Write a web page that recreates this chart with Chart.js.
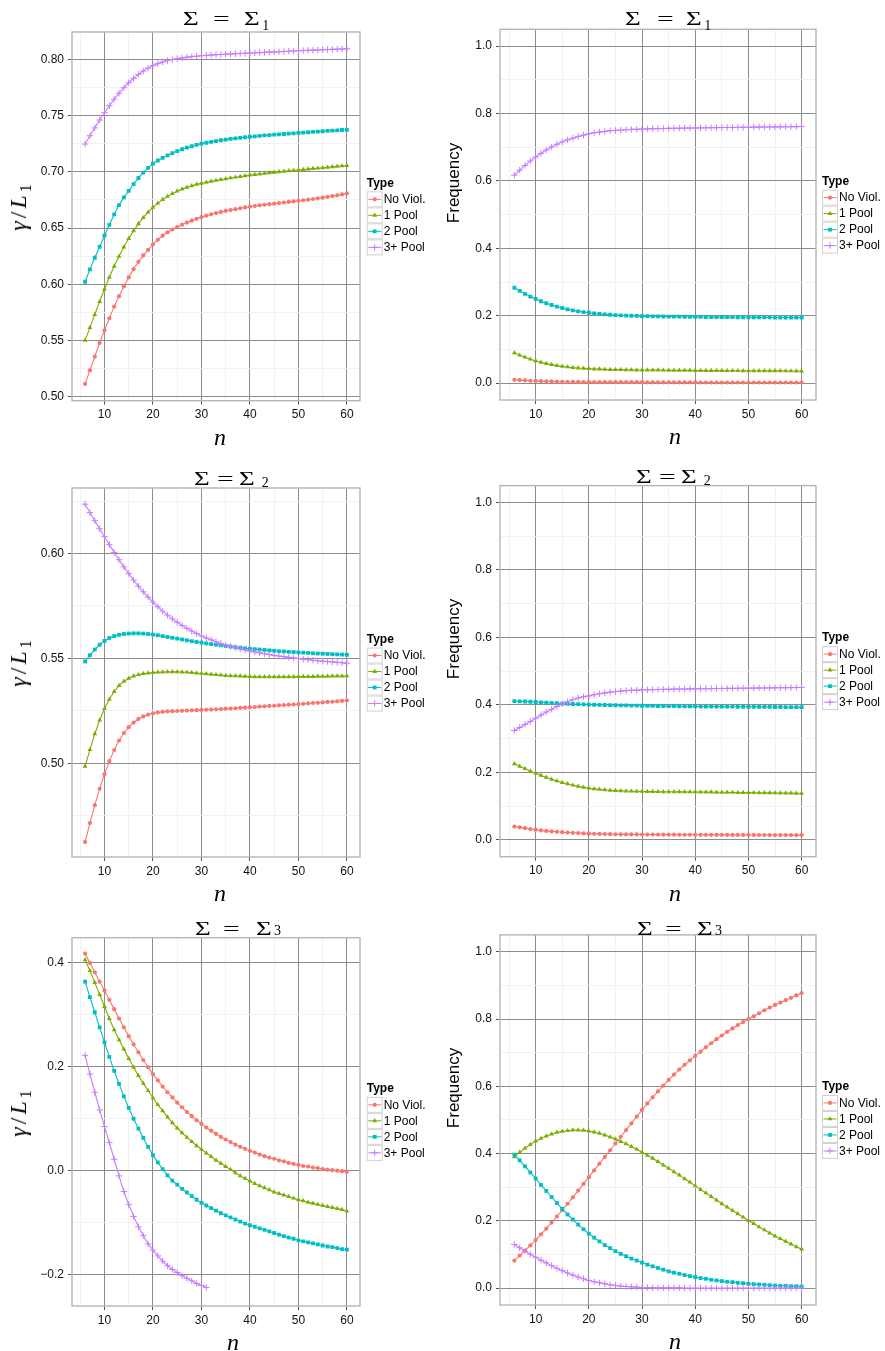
<!DOCTYPE html>
<html><head><meta charset="utf-8">
<script src="https://cdn.jsdelivr.net/npm/chart.js@4.4.1/dist/chart.umd.min.js"></script>
<style>
html,body{margin:0;padding:0;background:#fff;}
#wrap{position:relative;width:885px;height:1351px;overflow:hidden;background:#fff;}
canvas{position:absolute;}
.g{position:absolute;white-space:nowrap;color:#000;font-family:"Liberation Serif",serif;line-height:1;}
.sig{display:inline-block;transform-origin:0 50%;}
.ylab{position:absolute;white-space:nowrap;transform:translate(-50%,-50%) rotate(-90deg);line-height:1;color:#000;}
.gam{font-family:"Liberation Serif",serif;font-size:24px;letter-spacing:3px;}
.gam sub{font-size:16px;font-style:normal;vertical-align:-5px;}
.freq{font-family:"Liberation Sans",Arial,sans-serif;font-size:17px;}
.xlab{position:absolute;transform:translate(-50%,-50%);font-family:"Liberation Serif",serif;font-style:italic;font-size:24px;line-height:1;color:#000;}
</style></head><body><div id="wrap"></div>
<script>
// ---------------- DATA ----------------
const nValues = [6,7,8,9,10,11,12,13,14,15,16,17,18,19,20,21,22,23,24,25,26,27,28,29,30,31,32,33,34,35,36,37,38,39,40,41,42,43,44,45,46,47,48,49,50,51,52,53,54,55,56,57,58,59,60];
const seriesLabels = ['No Viol.','1 Pool','2 Pool','3+ Pool'];
const legendTitle = 'Type';
const xTickValues = [10,20,30,40,50,60];
const xTickLabels = ['10','20','30','40','50','60'];
const yTicksSigma1 = [0.50,0.55,0.60,0.65,0.70,0.75,0.80];
const yLabelsSigma1 = ['0.50','0.55','0.60','0.65','0.70','0.75','0.80'];
const yTicksSigma2 = [0.50,0.55,0.60];
const yLabelsSigma2 = ['0.50','0.55','0.60'];
const yTicksSigma3 = [-0.2,0.0,0.2,0.4];
const yLabelsSigma3 = ['\u22120.2','0.0','0.2','0.4'];
const yTicksFreq = [0.0,0.2,0.4,0.6,0.8,1.0];
const yLabelsFreq = ['0.0','0.2','0.4','0.6','0.8','1.0'];

// Sigma_1 : gamma / L1
const s1gNoViol = [.5115,.5236,.5358,.5479,.5591,.5698,.5802,.5895,.5982,.6062,.6135,.6200,.6257,.6307,.6355,.6396,.6432,.6462,.6487,.6509,.6530,.6549,.6566,.6582,.6597,.6610,.6622,.6633,.6643,.6652,.6660,.6668,.6676,.6683,.6690,.6696,.6702,.6707,.6712,.6717,.6722,.6727,.6732,.6737,.6742,.6747,.6752,.6758,.6764,.6770,.6777,.6784,.6791,.6799,.6808];
const s1gPool1 = [.5502,.5615,.5731,.5847,.5958,.6063,.6160,.6249,.6331,.6407,.6475,.6537,.6592,.6641,.6684,.6721,.6753,.6781,.6806,.6828,.6846,.6862,.6876,.6888,.6898,.6907,.6915,.6923,.6931,.6938,.6945,.6952,.6958,.6964,.6970,.6975,.6980,.6985,.6990,.6995,.7000,.7004,.7008,.7012,.7016,.7020,.7024,.7028,.7032,.7036,.7040,.7044,.7048,.7052,.7056];
const s1gPool2 = [.6023,.6133,.6236,.6334,.6432,.6529,.6621,.6704,.6772,.6831,.6891,.6945,.6993,.7035,.7073,.7100,.7124,.7146,.7166,.7184,.7200,.7214,.7227,.7239,.7250,.7258,.7266,.7273,.7280,.7286,.7292,.7297,.7302,.7307,.7311,.7315,.7319,.7323,.7326,.7330,.7333,.7336,.7339,.7342,.7345,.7348,.7351,.7354,.7357,.7360,.7363,.7366,.7368,.7371,.7373];
const s1gPool3 = [.7246,.7320,.7390,.7460,.7525,.7587,.7645,.7698,.7747,.7791,.7830,.7865,.7895,.7921,.7943,.7961,.7976,.7988,.7998,.8006,.8012,.8018,.8023,.8027,.8031,.8034,.8037,.8040,.8042,.8045,.8047,.8049,.8051,.8053,.8055,.8057,.8059,.8061,.8063,.8065,.8067,.8069,.8071,.8073,.8075,.8077,.8079,.8080,.8082,.8084,.8086,.8088,.8089,.8091,.8093];
// Sigma_1 : frequency
const s1fNoViol = [.010,.009,.008,.007,.0065,.006,.0055,.005,.0045,.004,.004,.0035,.0035,.003,.003,.003,.003,.003,.003,.003,.003,.003,.003,.003,.003,.0025,.0025,.0025,.0025,.0025,.0025,.0025,.0025,.0025,.0025,.002,.002,.002,.002,.002,.002,.002,.002,.002,.002,.002,.002,.002,.002,.002,.002,.002,.002,.002,.002];
const s1fPool1 = [.090,.083,.077,.071,.066,.062,.058,.055,.052,.050,.048,.046,.045,.044,.043,.042,.0415,.041,.0405,.040,.040,.0395,.0395,.039,.039,.039,.0388,.0386,.0384,.0382,.038,.038,.0378,.0378,.0376,.0376,.0374,.0374,.0372,.0372,.037,.037,.037,.0368,.0368,.0366,.0366,.0366,.0364,.0364,.0364,.0362,.0362,.036,.036];
const s1fPool2 = [.283,.274,.265,.257,.250,.243,.237,.232,.227,.223,.219,.216,.213,.211,.209,.207,.2055,.204,.203,.202,.2012,.2005,.200,.1995,.199,.1987,.1984,.1981,.1978,.1976,.1974,.1972,.1970,.1968,.1966,.1964,.1962,.1961,.1960,.1959,.1958,.1957,.1956,.1955,.1954,.1953,.1952,.1951,.1950,.1949,.1948,.1947,.1946,.1945,.1944];
const s1fPool3 = [.617,.632,.646,.659,.671,.682,.692,.701,.709,.716,.722,.727,.732,.736,.740,.743,.745,.747,.749,.750,.751,.752,.753,.7535,.754,.7545,.755,.7553,.7556,.7559,.7562,.7565,.7568,.757,.7572,.7575,.7578,.758,.7582,.7584,.7586,.7588,.759,.7592,.7594,.7596,.7598,.760,.7602,.7604,.7606,.7608,.761,.7612,.7614];
// Sigma_2 : gamma / L1
const s2gNoViol = [.4625,.4715,.4800,.4878,.4948,.5010,.5063,.5108,.5144,.5172,.5194,.5211,.5223,.5232,.5238,.5242,.5245,.5247,.5248,.5249,.5250,.5251,.5252,.5253,.5254,.5255,.5256,.5257,.5258,.5260,.5261,.5262,.5264,.5265,.5267,.5268,.5270,.5271,.5273,.5274,.5276,.5277,.5279,.5280,.5282,.5283,.5285,.5287,.5288,.5290,.5292,.5293,.5295,.5297,.5299];
const s2gPool1 = [.4985,.5065,.5140,.5205,.5260,.5305,.5342,.5370,.5390,.5405,.5415,.5422,.5427,.5430,.5432,.5434,.5435,.5436,.5436,.5436,.5435,.5434,.5432,.5430,.5428,.5426,.5424,.5422,.5420,.5418,.5417,.5416,.5415,.5414,.5413,.5412,.5412,.5412,.5412,.5412,.5412,.5412,.5412,.5412,.5413,.5413,.5413,.5413,.5414,.5414,.5414,.5415,.5415,.5415,.5416];
const s2gPool2 = [.5485,.5515,.5542,.5565,.5583,.5597,.5606,.5612,.5616,.5618,.5619,.5619,.5618,.5616,.5613,.5610,.5606,.5602,.5598,.5594,.5590,.5586,.5582,.5578,.5575,.5571,.5568,.5565,.5562,.5559,.5556,.5553,.5551,.5548,.5546,.5544,.5542,.5540,.5538,.5536,.5534,.5533,.5531,.5530,.5528,.5527,.5526,.5524,.5523,.5522,.5521,.5520,.5519,.5518,.5517];
const s2gPool3 = [.6235,.6195,.6156,.6118,.6080,.6042,.6005,.5970,.5936,.5904,.5873,.5844,.5817,.5792,.5768,.5746,.5725,.5706,.5688,.5672,.5657,.5643,.5630,.5618,.5607,.5597,.5588,.5579,.5571,.5564,.5557,.5551,.5545,.5540,.5535,.5530,.5526,.5522,.5518,.5514,.5511,.5508,.5505,.5502,.5499,.5496,.5494,.5491,.5489,.5487,.5485,.5483,.5481,.5479,.5477];
// Sigma_2 : frequency
const s2fNoViol = [.0395,.037,.0345,.032,.030,.028,.0265,.025,.0238,.0227,.0217,.0208,.020,.019,.0183,.0178,.0174,.017,.0167,.0165,.0163,.0161,.016,.0159,.0158,.0157,.0156,.0155,.0154,.0153,.0152,.0151,.015,.015,.0149,.0149,.0148,.0148,.0147,.0147,.0146,.0146,.0145,.0145,.0144,.0144,.0143,.0143,.0142,.0142,.0141,.0141,.014,.014,.014];
const s2fPool1 = [.2252,.218,.211,.204,.1975,.191,.185,.1795,.1745,.170,.166,.162,.1585,.1555,.153,.151,.1495,.148,.147,.146,.1452,.1446,.1441,.1437,.1434,.1431,.1429,.1427,.1425,.1424,.1423,.1422,.1421,.142,.1419,.1417,.1415,.1413,.1411,.1409,.1407,.1405,.1403,.1401,.1399,.1397,.1395,.1393,.1391,.1389,.1387,.1385,.1383,.1381,.1379];
const s2fPool2 = [.411,.4105,.410,.4093,.4085,.4075,.4066,.4057,.4048,.404,.4033,.4026,.402,.4014,.4009,.4004,.400,.3996,.3992,.3989,.3986,.3983,.398,.3977,.3975,.3972,.397,.3968,.3966,.3964,.3962,.396,.3958,.3956,.3954,.3952,.3951,.395,.3949,.3948,.3947,.3946,.3945,.3944,.3943,.3942,.3941,.394,.3939,.3938,.3937,.3936,.3935,.3934,.3933];
const s2fPool3 = [.324,.333,.342,.351,.3605,.370,.379,.387,.395,.403,.4095,.4155,.4205,.424,.4267,.430,.433,.4355,.4377,.4395,.441,.4422,.4431,.4438,.4444,.4449,.4453,.4457,.446,.4463,.4466,.4469,.4472,.4474,.4476,.4478,.448,.4482,.4484,.4486,.4488,.449,.4492,.4494,.4496,.4498,.45,.4502,.4504,.4506,.4508,.451,.4512,.4514,.4516];
// Sigma_3 : gamma / L1
const s3gNoViol = [.418,.400,.382,.364,.347,.329,.311,.293,.276,.259,.243,.228,.213,.199,.186,.174,.162,.151,.141,.131,.122,.113,.105,.097,.090,.083,.077,.071,.065,.060,.055,.050,.046,.042,.038,.035,.031,.028,.025,.023,.020,.018,.015,.013,.011,.009,.008,.006,.005,.003,.002,.001,.000,-.001,-.002];
const s3gPool1 = [.406,.385,.362,.339,.316,.293,.271,.252,.234,.216,.199,.183,.168,.154,.140,.127,.115,.103,.092,.082,.073,.064,.056,.048,.041,.034,.027,.020,.014,.008,.002,-.004,-.010,-.015,-.020,-.025,-.029,-.033,-.037,-.041,-.044,-.047,-.050,-.053,-.056,-.058,-.061,-.063,-.065,-.067,-.069,-.071,-.073,-.075,-.078];
const s3gPool2 = [.364,.334,.305,.276,.247,.219,.192,.167,.143,.121,.100,.081,.063,.046,.030,.016,.003,-.009,-.019,-.027,-.035,-.042,-.049,-.056,-.062,-.067,-.072,-.077,-.082,-.086,-.090,-.094,-.098,-.102,-.105,-.108,-.111,-.114,-.117,-.120,-.123,-.126,-.129,-.131,-.134,-.136,-.138,-.140,-.142,-.144,-.146,-.147,-.149,-.151,-.152];
const s3gPool3 = [.222,.186,.151,.117,.085,.054,.022,-.010,-.040,-.065,-.088,-.108,-.125,-.141,-.153,-.164,-.174,-.183,-.190,-.196,-.202,-.207,-.212,-.217,-.221,-.225];
// Sigma_3 : frequency
const s3fNoViol = [.082,.097,.112,.127,.143,.160,.177,.195,.213,.232,.251,.270,.290,.310,.330,.350,.370,.390,.410,.430,.450,.470,.490,.510,.530,.549,.567,.585,.602,.619,.635,.650,.664,.677,.690,.703,.716,.728,.740,.751,.762,.772,.782,.791,.800,.808,.817,.826,.834,.842,.849,.856,.863,.870,.877];
const s3fPool1 = [.390,.404,.416,.427,.437,.445,.452,.458,.463,.466,.468,.470,.470,.469,.467,.464,.460,.455,.449,.443,.436,.429,.421,.413,.404,.395,.386,.376,.366,.356,.346,.336,.325,.315,.304,.293,.283,.272,.262,.251,.241,.231,.221,.211,.201,.192,.182,.173,.164,.155,.147,.139,.131,.123,.116];
const s3fPool2 = [.397,.380,.362,.344,.326,.307,.289,.271,.253,.236,.219,.204,.189,.175,.162,.150,.139,.128,.119,.110,.102,.095,.088,.082,.076,.070,.065,.060,.055,.050,.046,.043,.039,.036,.033,.030,.028,.025,.023,.021,.019,.018,.016,.015,.013,.012,.011,.010,.009,.008,.007,.007,.006,.006,.005];
const s3fPool3 = [.130,.120,.110,.101,.092,.083,.075,.067,.059,.052,.045,.039,.033,.028,.023,.019,.016,.013,.010,.008,.006,.005,.004,.003,.002,.002,.001,.001,.001,.001,.001,.001,.000,.000,.000,.000,.000,.000,.000,.000,.000,.000,.000,.000,.000,.000,.000,.000,.000,.000,.000,.000,.000,.000,.000];

// ---------------- STYLE ----------------
const colors = ['#F8766D','#7CAE00','#00BFC4','#C77CFF'];
const shapes = ['circle','triangle','rect','cross'];
const radii  = [2.1,2.8,2.7,3.2];
const MAJOR = '#8c8c8c', MINOR = '#f2f2f2', TICK = '#555555', BORDER = '#b5b5b5';
const FONT = '"Liberation Sans", Arial, sans-serif';

const panels = [
  {cx:0,cy:0,cw:442,ch:450, plot:[72,32,360,400.7], ymin:0.4966, ymax:0.8242, yt:yTicksSigma1, yl:yLabelsSigma1,
   series:[s1gNoViol,s1gPool1,s1gPool2,s1gPool3], leg:6.7},
  {cx:442,cy:0,cw:443,ch:450, plot:[500,29.3,816,400], ymin:-0.05, ymax:1.05, yt:yTicksFreq, yl:yLabelsFreq,
   series:[s1fNoViol,s1fPool1,s1fPool2,s1fPool3], leg:6},
  {cx:0,cy:450,cw:442,ch:450, plot:[72,488,360,857], ymin:0.4553, ymax:0.6312, yt:yTicksSigma2, yl:yLabelsSigma2,
   series:[s2gNoViol,s2gPool1,s2gPool2,s2gPool3], leg:6.7},
  {cx:442,cy:450,cw:443,ch:450, plot:[500,485.6,816,856.7], ymin:-0.05, ymax:1.05, yt:yTicksFreq, yl:yLabelsFreq,
   series:[s2fNoViol,s2fPool1,s2fPool2,s2fPool3], leg:6},
  {cx:0,cy:900,cw:442,ch:451, plot:[72,937.7,360,1306], ymin:-0.2605, ymax:0.4485, yt:yTicksSigma3, yl:yLabelsSigma3,
   series:[s3gNoViol,s3gPool1,s3gPool2,s3gPool3], leg:6.7},
  {cx:442,cy:900,cw:443,ch:451, plot:[500,934.9,816,1305], ymin:-0.05, ymax:1.05, yt:yTicksFreq, yl:yLabelsFreq,
   series:[s3fNoViol,s3fPool1,s3fPool2,s3fPool3], leg:6}
];

function drawMarker(ctx, style, x, y, r, color){
  ctx.save();
  ctx.fillStyle = color; ctx.strokeStyle = color; ctx.lineWidth = 1;
  ctx.beginPath();
  if (style === 'circle') { ctx.arc(x, y, r, 0, Math.PI*2); ctx.fill(); }
  else if (style === 'triangle') {
    let a = 0;
    ctx.moveTo(x + Math.sin(a)*r, y - Math.cos(a)*r); a += 2*Math.PI/3;
    ctx.lineTo(x + Math.sin(a)*r, y - Math.cos(a)*r); a += 2*Math.PI/3;
    ctx.lineTo(x + Math.sin(a)*r, y - Math.cos(a)*r); ctx.closePath(); ctx.fill();
  } else if (style === 'rect') { const s = Math.SQRT1_2*r; ctx.rect(x-s, y-s, 2*s, 2*s); ctx.fill(); }
  else { ctx.moveTo(x, y-r); ctx.lineTo(x, y+r); ctx.moveTo(x-r, y); ctx.lineTo(x+r, y); ctx.stroke(); }
  ctx.restore();
}

const framePlugin = {
  id: 'frameLegend',
  afterDraw(chart, args, opts) {
    const {ctx, chartArea:a} = chart;
    ctx.save();
    ctx.strokeStyle = BORDER; ctx.lineWidth = 1.4;
    ctx.strokeRect(a.left, a.top, a.right - a.left, a.bottom - a.top);
    const lx = a.right + opts.gap;
    const cy = (a.top + a.bottom) / 2;
    ctx.fillStyle = '#000';
    ctx.font = 'bold 12px ' + FONT;
    ctx.textBaseline = 'middle'; ctx.textAlign = 'left';
    ctx.fillText(legendTitle, lx, cy - 33);
    for (let i = 0; i < seriesLabels.length; i++) {
      const ky = cy - 17 + i * 16;
      ctx.fillStyle = '#ffffff';
      ctx.fillRect(lx, ky - 8, 15, 16);
      ctx.strokeStyle = '#d0d0d0'; ctx.lineWidth = 1;
      ctx.strokeRect(lx + 0.5, ky - 7.5, 15, 15);
      ctx.strokeStyle = colors[i]; ctx.lineWidth = 1;
      ctx.beginPath(); ctx.moveTo(lx + 1.5, ky); ctx.lineTo(lx + 14.5, ky); ctx.stroke();
      drawMarker(ctx, shapes[i], lx + 8, ky, radii[i], colors[i]);
      ctx.fillStyle = '#000'; ctx.font = '12px ' + FONT;
      ctx.fillText(seriesLabels[i], lx + 17, ky + 0.5);
    }
    ctx.restore();
  }
};

function minorOf(majors, lo, hi) {
  const step = majors[1] - majors[0];
  const out = [];
  for (let k = -3; k < majors.length + 3; k++) {
    const v = majors[0] + (k + 0.5) * step;
    if (v >= lo && v <= hi) out.push(+v.toFixed(6));
  }
  return out;
}
function isIn(list, v) { return list.some(m => Math.abs(m - v) < 1e-6); }

const wrap = document.getElementById('wrap');
const XMIN = 3.3, XMAX = 62.7;
const xMinor = minorOf(xTickValues, XMIN, XMAX);

panels.forEach(p => {
  const cv = document.createElement('canvas');
  cv.width = p.cw; cv.height = p.ch;
  cv.style.left = p.cx + 'px'; cv.style.top = p.cy + 'px';
  cv.style.width = p.cw + 'px'; cv.style.height = p.ch + 'px';
  wrap.appendChild(cv);
  const [pl, pt, pr, pb] = p.plot;
  const yAxisW = pl - p.cx;
  const xAxisH = 30;
  const yMinor = minorOf(p.yt, p.ymin, p.ymax);
  const datasets = p.series.map((ys, i) => ({
    label: seriesLabels[i],
    data: ys.map((y, j) => ({x: nValues[j], y: y})),
    borderColor: colors[i], backgroundColor: colors[i],
    pointBackgroundColor: colors[i], pointBorderColor: colors[i],
    borderWidth: 1.1, pointStyle: shapes[i], pointRadius: radii[i], pointHoverRadius: radii[i],
    pointBorderWidth: i === 3 ? 1 : 0, tension: 0, fill: false, order: 4 - i
  }));
  new Chart(cv, {
    type: 'line',
    data: { datasets },
    plugins: [framePlugin],
    options: {
      responsive: false, animation: false, devicePixelRatio: 1,
      layout: { padding: { left: 0, top: pt - p.cy, right: p.cx + p.cw - pr, bottom: p.ch - (pb - p.cy) - xAxisH } },
      plugins: { legend: {display:false}, title:{display:false}, tooltip:{enabled:false}, frameLegend: {gap: p.leg} },
      events: [],
      scales: {
        x: {
          type: 'linear', min: XMIN, max: XMAX,
          afterBuildTicks: s => { s.ticks = xMinor.concat(xTickValues).sort((a,b)=>a-b).map(v => ({value: v})); },
          afterFit: s => { s.height = xAxisH; },
          border: {display: false},
          grid: {
            color: c => (c.tick && isIn(xTickValues, c.tick.value)) ? MAJOR : MINOR,
            tickColor: c => (c.tick && isIn(xTickValues, c.tick.value)) ? TICK : 'rgba(0,0,0,0)',
            lineWidth: 1, tickLength: 4, drawTicks: true
          },
          ticks: {
            autoSkip: false, maxRotation: 0, minRotation: 0, padding: 3, color: '#111',
            font: {family: FONT, size: 12},
            callback: v => { const i = xTickValues.findIndex(m => Math.abs(m - v) < 1e-6); return i >= 0 ? xTickLabels[i] : ''; }
          }
        },
        y: {
          type: 'linear', min: p.ymin, max: p.ymax,
          afterBuildTicks: s => { s.ticks = yMinor.concat(p.yt).sort((a,b)=>a-b).map(v => ({value: v})); },
          afterFit: s => { s.width = yAxisW; },
          border: {display: false},
          grid: {
            color: c => (c.tick && isIn(p.yt, c.tick.value)) ? MAJOR : MINOR,
            tickColor: c => (c.tick && isIn(p.yt, c.tick.value)) ? TICK : 'rgba(0,0,0,0)',
            lineWidth: 1, tickLength: 4, drawTicks: true
          },
          ticks: {
            autoSkip: false, padding: 4, color: '#111',
            font: {family: FONT, size: 12},
            callback: v => { const i = p.yt.findIndex(m => Math.abs(m - v) < 1e-6); return i >= 0 ? p.yl[i] : ''; }
          }
        }
      }
    }
  });
});

// ---------------- TEXT (titles, axis titles) ----------------
const subs = ['1','1','2','2','3','3'];
const titlePos = [
  [183,213.3,244.3,262.3,13.3,21],
  [625,656.7,686,704.3,13.3,21],
  [194,216.7,239,261.7,473.3,478.7],
  [636,659,681,703.7,470.9,476.5],
  [195,222.7,256,274,923.3,926.7],
  [636.7,665,696.7,715,922.7,926.7]
];
function addGlyph(txt, left, capTop, size, sx) {
  const d = document.createElement('div');
  d.className = 'g';
  d.style.left = left + 'px';
  d.style.top = (capTop - 0.1755 * size) + 'px';
  d.style.fontSize = size + 'px';
  d.style.height = size + 'px';
  const s = document.createElement('span');
  s.className = 'sig'; s.textContent = txt;
  s.style.transform = 'scaleX(' + sx + ')';
  d.appendChild(s);
  wrap.appendChild(d);
}
titlePos.forEach((t, i) => {
  addGlyph('\u03A3', t[0], t[4], 18, 1.5);
  addGlyph('=', t[1], t[4], 18, 1.65);
  addGlyph('\u03A3', t[2], t[4], 18, 1.5);
  addGlyph(subs[i], t[3], t[5], 14, 1.0);
});

const yTitlePos = [[20,206],[453,182.5],[20,662],[453,638.7],[20,1112],[453,1087.5]];
yTitlePos.forEach((q, i) => {
  const d = document.createElement('div');
  d.className = 'ylab ' + (i % 2 === 0 ? 'gam' : 'freq');
  d.style.left = q[0] + 'px'; d.style.top = q[1] + 'px';
  if (i % 2 === 0) d.innerHTML = '<i>\u03B3</i>/<i>L</i><sub>1</sub>';
  else d.textContent = 'Frequency';
  wrap.appendChild(d);
});
const xTitlePos = [[220,436.7],[675,436],[220,893],[675,893],[233,1342],[675,1341]];
xTitlePos.forEach(q => {
  const d = document.createElement('div');
  d.className = 'xlab'; d.textContent = 'n';
  d.style.left = q[0] + 'px'; d.style.top = q[1] + 'px';
  wrap.appendChild(d);
});
</script>
</body></html>
